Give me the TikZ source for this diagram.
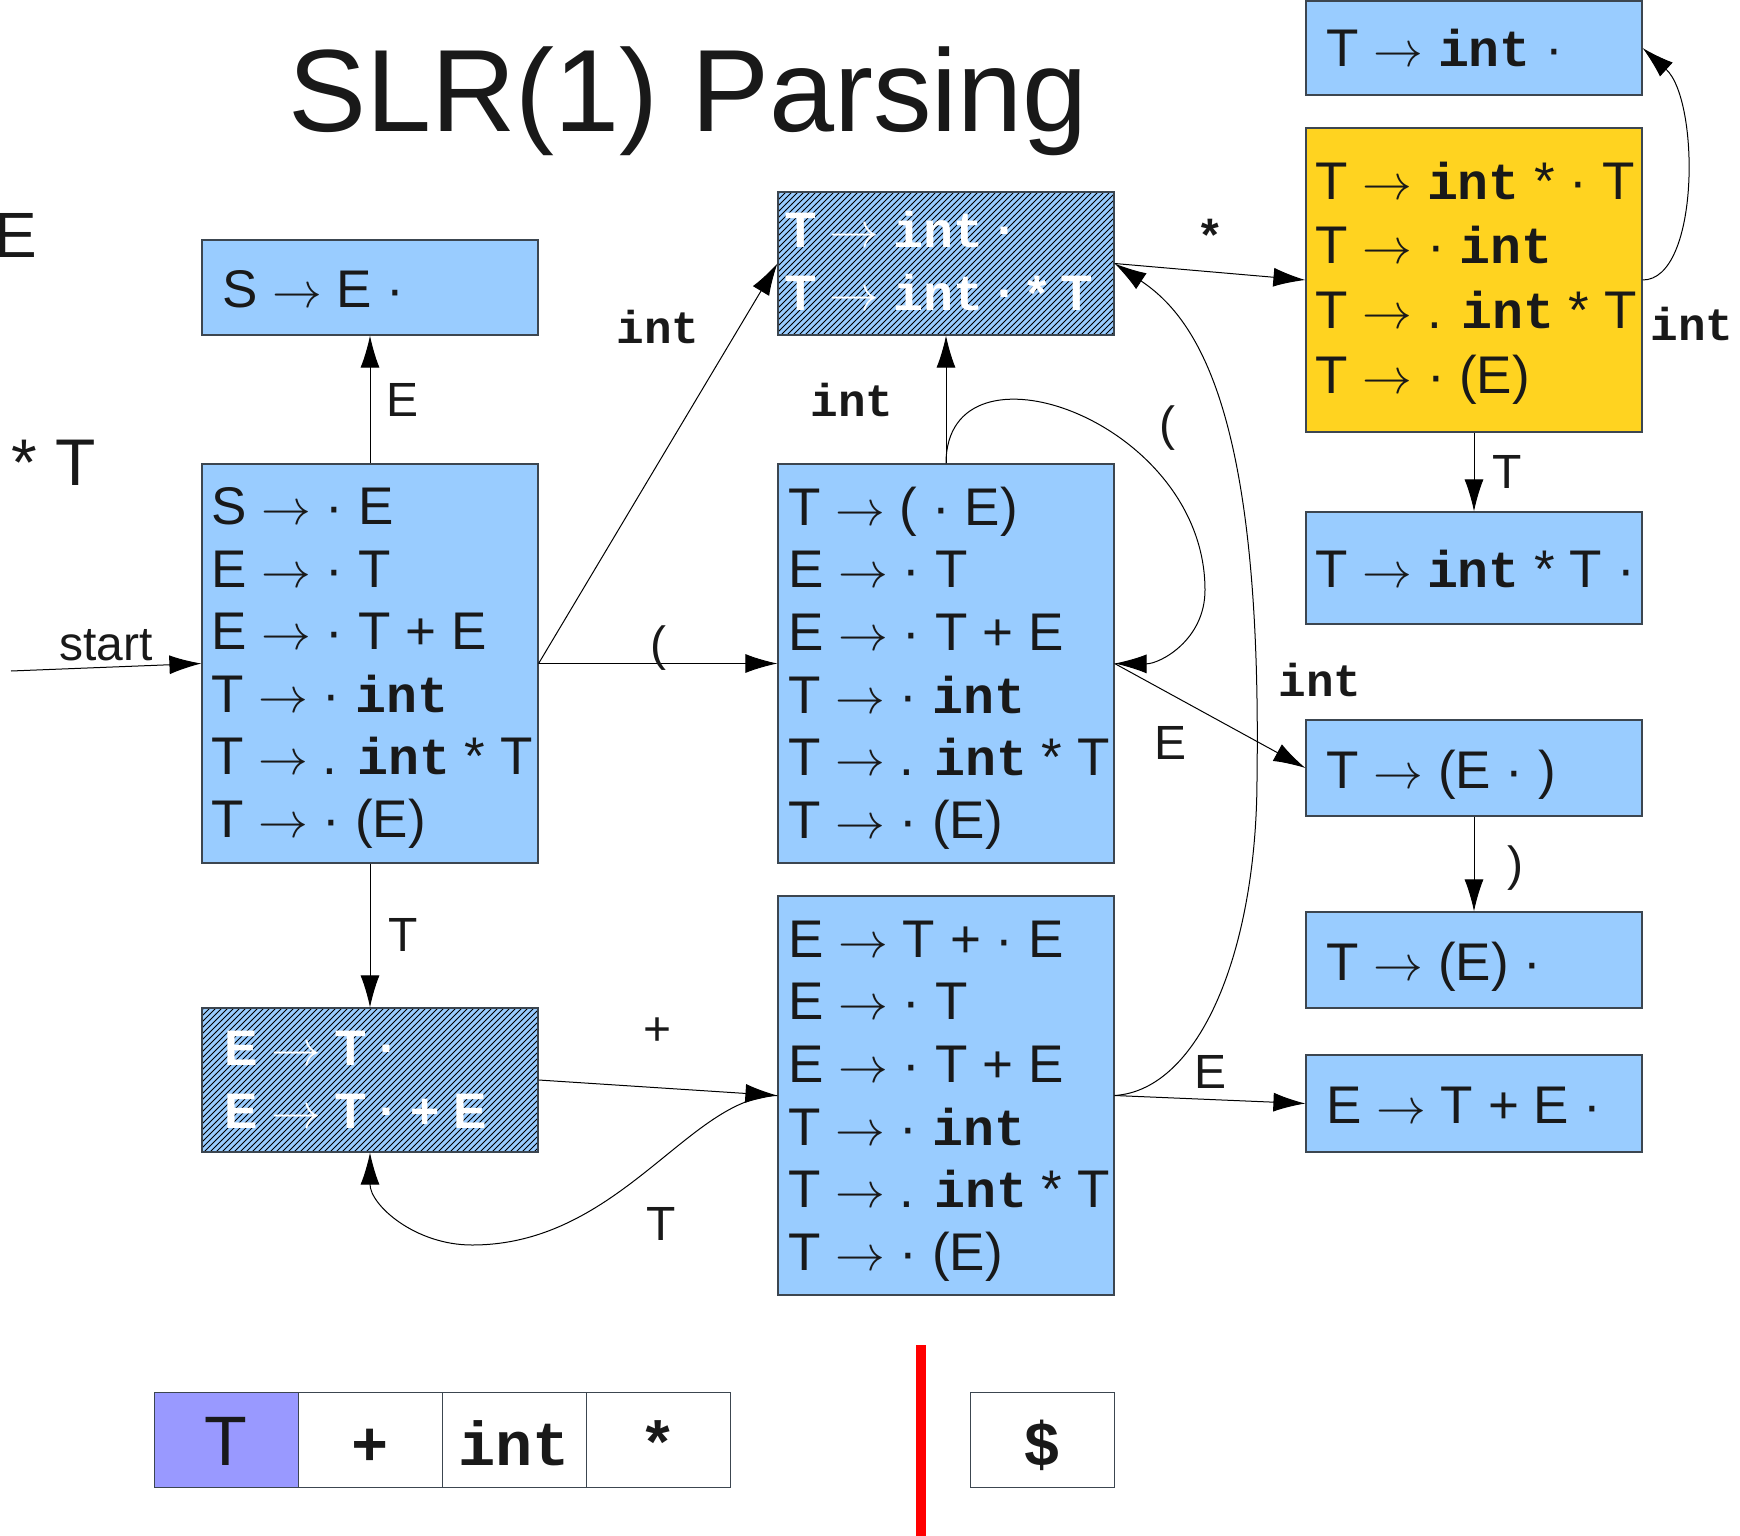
\documentclass[tikz,border=0pt]{standalone}
\usepackage{fontspec}
\setmainfont{Liberation Sans}
\newfontfamily\mymono{Liberation Mono}
\usetikzlibrary{patterns,arrows.meta}
\definecolor{stblue}{RGB}{153,204,255}
\definecolor{styellow}{RGB}{255,211,32}
\definecolor{stpurple}{RGB}{153,153,255}
\definecolor{stborder}{RGB}{60,70,80}
\definecolor{txt}{RGB}{25,25,25}
\newcommand{\myint}{{\mymono\bfseries\fontsize{25.8}{31.3}\selectfont int}}
\newcommand{\myinth}{{\mymono\bfseries\fontsize{25}{31.5}\selectfont int}}
\newcommand{\myar}{$\rightarrow$}
\begin{document}
\begin{tikzpicture}[x=0.5pt,y=-0.5pt,
 stbox/.style={draw=stborder, line width=0.6pt, fill=stblue, minimum width=168pt, inner sep=0pt},
 hbox/.style={draw=stborder, line width=0.6pt, minimum width=168pt, inner sep=0pt, preaction={fill=stblue}, pattern=north east lines, pattern color=black},
 ybox/.style={stbox, fill=styellow},
 stcell/.style={draw=stborder, line width=0.5pt, fill=white, minimum width=72pt, minimum height=47.5pt, inner sep=0pt},
 sttext/.style={inner sep=0pt, align=left, text=txt, font=\fontsize{26.5}{31.3}\selectfont},
 htext/.style={inner sep=0pt, align=left, text=white, font=\fontsize{25}{31.5}\selectfont\bfseries},
 conn/.style={line width=0.5pt, draw=black, -{Latex[length=16pt,width=9.5pt]}},
 lbl/.style={inner sep=0pt, text=txt, font=\fontsize{24}{24}\selectfont},
 lblm/.style={inner sep=0pt, text=txt, font=\fontsize{23}{23}\selectfont\mymono\bfseries},
]
\useasboundingbox (0,0) rectangle (1740,1536);

% title and cut-off texts
\node[lbl, anchor=base, font=\fontsize{58.5}{58.5}\selectfont] (title) at (688,132) {SLR(1) Parsing};
\node[lbl, anchor=base west, font=\fontsize{32}{32}\selectfont] (cutE) at (-6,257) {E};
\node[lbl, anchor=base west, font=\fontsize{33}{33}\selectfont] (cutT) at (11,485) {* T};

% boxes
\node[stbox, minimum height=199.5pt] (A) at (370,663.5) {};
\node[sttext, anchor=west] (At) at (211,668) {S \myar{} · E\\E \myar{} · T\\E \myar{} · T + E\\T \myar{} · \myint\\T \myar{} . \myint{} * T\\T \myar{} · (E)};

\node[stbox, minimum height=47.5pt] (SE) at (370,287.5) {};
\node[sttext, anchor=base west] (SEt) at (222,307) {S \myar{} E ·};

\node[hbox, minimum height=71.5pt] (H1) at (946,263.5) {};
\node[htext, anchor=west] (H1t) at (785,261) {T \myar{} \myinth{} ·\\T \myar{} \myinth{} · * T};

\node[stbox, minimum height=199.5pt] (M) at (946,663.5) {};
\node[sttext, anchor=west] (Mt) at (788,668) {T \myar{} ( · E)\\E \myar{} · T\\E \myar{} · T + E\\T \myar{} · \myint\\T \myar{} . \myint{} * T\\T \myar{} · (E)};

\node[stbox, minimum height=199.5pt] (P) at (946,1095.5) {};
\node[sttext, anchor=west] (Pt) at (788,1101) {E \myar{} T + · E\\E \myar{} · T\\E \myar{} · T + E\\T \myar{} · \myint\\T \myar{} . \myint{} * T\\T \myar{} · (E)};

\node[hbox, minimum height=72pt] (H2) at (370,1080) {};
\node[htext, anchor=west] (H2t) at (224,1080) {E \myar{} T ·\\E \myar{} T · + E};

\node[stbox, minimum height=47pt] (TI) at (1474,48) {};
\node[sttext, anchor=base west] (TIt) at (1326,67) {T \myar{} \myint{} ·};

\node[ybox, minimum height=152pt] (Y) at (1474,280) {};
\node[sttext, anchor=west, font=\fontsize{26.5}{32.4}\selectfont] (Yt) at (1315,283) {T \myar{} \myint{} * · T\\T \myar{} · \myint\\T \myar{} . \myint{} * T\\T \myar{} · (E)};

\node[stbox, minimum height=56pt] (TIT) at (1474,568) {};
\node[sttext, anchor=base west] (TITt) at (1315,587) {T \myar{} \myint{} * T ·};

\node[stbox, minimum height=48pt] (TE) at (1474,768) {};
\node[sttext, anchor=base west] (TEt) at (1326,788) {T \myar{} (E · )};

\node[stbox, minimum height=48pt] (TEc) at (1474,960) {};
\node[sttext, anchor=base west] (TEct) at (1326,980) {T \myar{} (E) ·};

\node[stbox, minimum height=48.5pt] (ETE) at (1474,1103.5) {};
\node[sttext, anchor=base west] (ETEt) at (1326,1123) {E \myar{} T + E ·};

% connectors
\coordinate (s0) at (11,671);
\draw[conn] (s0) -- (A.west);
\draw[conn] (A.north) -- (SE.south);
\draw[conn] (A.east) -- (H1.west);
\draw[conn] (A.east) -- (M.west);
\draw[conn] (A.south) -- (H2.north);
\draw[conn] (H2.east) -- (P.west);
\draw[conn] (P.west) .. controls (690,1096) and (620,1245) .. (472,1245) .. controls (415,1245) and (370,1205) .. (H2.south);
\draw[conn] (M.north) -- (H1.south);
\draw[conn] (M.north) .. controls (946,330) and (1205,420) .. (1205,590) .. controls (1205,640) and (1160,664) .. (M.east);
\draw[conn] (M.east) -- (TE.west);
\draw[conn] (H1.east) -- (Y.west);
\draw[conn] (P.east) .. controls (1200,1090) and (1257,950) .. (1257,777) .. controls (1262,420) and (1200,320) .. (H1.east);
\draw[conn] (Y.east) .. controls (1700,280) and (1700,100) .. (TI.east);
\draw[conn] (Y.south) -- (TIT.north);
\draw[conn] (TE.south) -- (TEc.north);
\draw[conn] (P.east) -- (ETE.west);

% labels
\node[lbl, anchor=base] (lstart) at (106,660) {start};
\node[lblm] (l1) at (658,327) {int};
\node[lbl] (l2) at (403,400) {E};
\node[lblm] (l3) at (852,400) {int};
\node[lbl] (l4) at (1167,428) {(};
\node[lblm] (l5) at (1210,236) {*};
\node[lblm] (l6) at (1692,324) {int};
\node[lbl] (l7) at (1507,472) {T};
\node[lbl] (l8) at (658,648) {(};
\node[lblm] (l9) at (1320,680) {int};
\node[lbl] (l10) at (1170,743) {E};
\node[lbl] (l11) at (1515,868) {)};
\node[lbl] (l12) at (403,935) {T};
\node[lbl] (l13) at (658,1032) {+};
\node[lbl] (l14) at (1210,1072) {E};
\node[lbl] (l15) at (661,1224) {T};

% stack
\node[stcell, fill=stpurple] (c1) at (226,1439.5) {};
\node[stcell] (c2) at (370,1439.5) {};
\node[stcell] (c3) at (514,1439.5) {};
\node[stcell] (c4) at (658,1439.5) {};
\node[stcell] (c5) at (1042,1439.5) {};
\node[lbl, anchor=base, font=\fontsize{35}{35}\selectfont] (c1t) at (226,1465) {T};
\node[lbl, anchor=base, font=\fontsize{31}{31}\selectfont\mymono\bfseries] (c2t) at (370,1465) {+};
\node[lbl, anchor=base, font=\fontsize{31}{31}\selectfont\mymono\bfseries] (c3t) at (514,1465) {int};
\node[lbl, anchor=base, font=\fontsize{31}{31}\selectfont\mymono\bfseries] (c4t) at (658,1465) {*};
\node[lbl, anchor=base, font=\fontsize{31}{31}\selectfont\mymono\bfseries] (c5t) at (1042,1465) {\$};

% red divider
\coordinate (r0) at (921,1345);
\coordinate (r1) at (921,1536);
\draw[red, line width=5pt] (r0) -- (r1);
\end{tikzpicture}
\end{document}
